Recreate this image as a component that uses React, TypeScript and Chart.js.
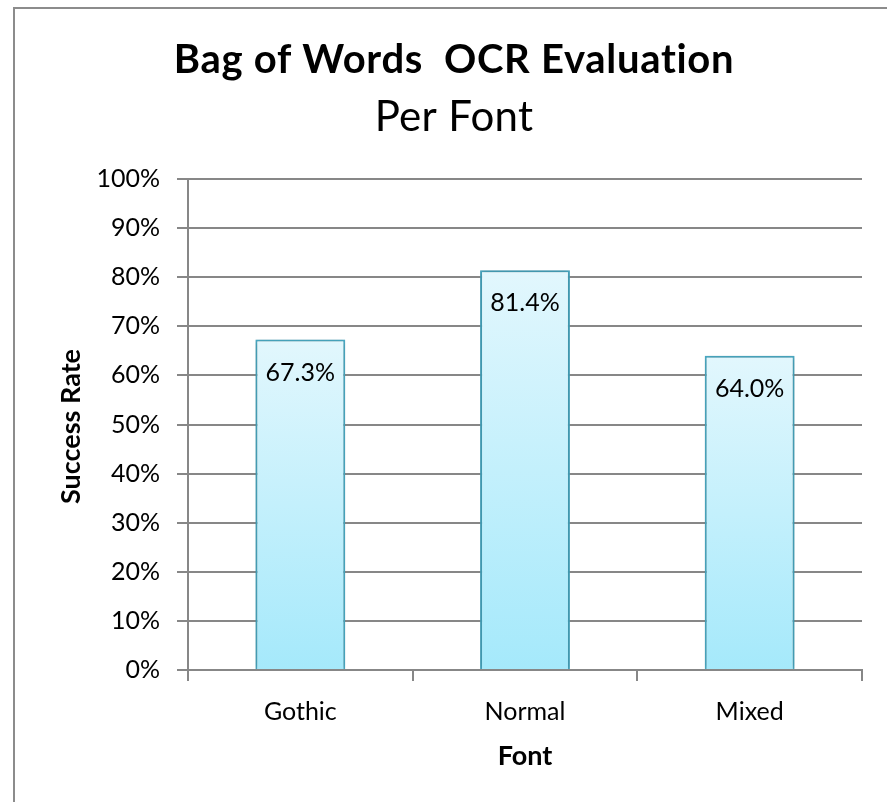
import { useEffect, useRef } from "react";
import { Chart, registerables } from "chart.js";

Chart.register(...registerables);

const categories = ["Gothic", "Normal", "Mixed"];
const successRates = [67.3, 81.4, 64.0];
const yTickValues = [0, 10, 20, 30, 40, 50, 60, 70, 80, 90, 100];
const chartTitle = "Bag of Words  OCR Evaluation";
const chartSubtitle = "Per Font";
const xAxisTitle = "Font";
const yAxisTitle = "Success Rate";

const FONT = "Lato, 'Noto Sans', sans-serif";
const GRID = "#878787";

const decorPlugin = {
  id: "decor",
  beforeDraw(chart: any) {
    const ctx = chart.ctx;
    ctx.save();
    ctx.strokeStyle = "#8c8c8c";
    ctx.lineWidth = 2;
    ctx.strokeRect(14, 8, 2000, 2000);
    ctx.restore();
  },
  beforeDatasetsDraw(chart: any) {
    const ctx = chart.ctx;
    ctx.save();
    ctx.shadowColor = "rgba(0,0,0,0.28)";
    ctx.shadowBlur = 5;
    ctx.shadowOffsetX = 0;
    ctx.shadowOffsetY = 0;
  },
  afterDatasetsDraw(chart: any) {
    const ctx = chart.ctx;
    ctx.restore();
    const area = chart.chartArea;
    ctx.save();
    ctx.fillStyle = "#000";
    ctx.textAlign = "center";
    ctx.textBaseline = "middle";
    ctx.font = `25px ${FONT}`;
    const meta = chart.getDatasetMeta(0);
    meta.data.forEach((bar: any, i: number) => {
      ctx.fillText(successRates[i].toFixed(1) + "%", bar.x, bar.y + 33);
    });

    ctx.textBaseline = "alphabetic";
    const cx = 454;
    ctx.font = `bold 40px ${FONT}`;
    (ctx as any).letterSpacing = "0.7px";
    ctx.fillText(chartTitle, cx, 73);
    ctx.font = `42px ${FONT}`;
    (ctx as any).letterSpacing = "0.3px";
    ctx.fillText(chartSubtitle, cx, 131);
    (ctx as any).letterSpacing = "0px";

    ctx.font = `bold 27px ${FONT}`;
    ctx.fillText(xAxisTitle, (area.left + area.right) / 2, 765);

    ctx.translate(80, (area.top + area.bottom) / 2 + 2);
    ctx.rotate(-Math.PI / 2);
    ctx.fillText(yAxisTitle, 0, 0);
    ctx.restore();
  },
};

function barGradient(context: any) {
  const chart = context.chart;
  const yScale = chart.scales && chart.scales.y;
  if (!chart.chartArea || !yScale || context.raw === undefined) return "#c4f0fc";
  const top = yScale.getPixelForValue(context.raw);
  const bottom = yScale.getPixelForValue(0);
  if (!isFinite(top) || !isFinite(bottom) || top === bottom) return "#c4f0fc";
  const g = chart.ctx.createLinearGradient(0, top, 0, bottom);
  g.addColorStop(0, "#e2f7fd");
  g.addColorStop(1, "#a5e9fb");
  return g;
}

export default function App() {
  const canvasRef = useRef<HTMLCanvasElement | null>(null);

  useEffect(() => {
    if (!canvasRef.current) return;
    const chart = new Chart(canvasRef.current, {
      type: "bar",
      data: {
        labels: categories,
        datasets: [
          {
            data: successRates,
            backgroundColor: barGradient,
            borderColor: "#4aabc5",
            borderWidth: 2,
            borderSkipped: "bottom",
            barPercentage: 0.4,
            categoryPercentage: 1,
          },
        ],
      },
      plugins: [decorPlugin],
      options: {
        animation: false,
        responsive: false,
        maintainAspectRatio: false,
        devicePixelRatio: 1,
        layout: { padding: { top: 179, right: 25, left: 0, bottom: 0 } },
        plugins: {
          legend: { display: false },
          title: { display: false },
          tooltip: { enabled: false },
        },
        scales: {
          x: {
            grid: {
              offset: true,
              drawOnChartArea: false,
              drawTicks: true,
              tickLength: 11,
              color: GRID,
              lineWidth: 2,
            },
            border: { display: true, color: GRID, width: 2 },
            ticks: {
              font: { family: FONT, size: 25 },
              color: "#000",
              padding: 16,
            },
            afterFit: (s: any) => {
              s.height = 132;
            },
          },
          y: {
            min: 0,
            max: 100,
            afterBuildTicks: (s: any) => {
              s.ticks = yTickValues.map((v) => ({ value: v }));
            },
            ticks: {
              callback: (v: any) => v + "%",
              font: { family: FONT, size: 25 },
              color: "#000",
              padding: 17,
            },
            grid: {
              color: GRID,
              lineWidth: 2,
              tickLength: 11,
              drawTicks: true,
            },
            border: { color: GRID, width: 2 },
            afterFit: (s: any) => {
              s.width = 188;
            },
          },
        },
      },
    });
    return () => chart.destroy();
  }, []);

  return (
    <div
      style={{
        position: "fixed",
        left: 0,
        top: 0,
        width: 887,
        height: 802,
        background: "#fff",
        overflow: "hidden",
      }}
    >
      <canvas
        ref={canvasRef}
        width={887}
        height={802}
        style={{ display: "block", width: 887, height: 802 }}
      />
    </div>
  );
}
